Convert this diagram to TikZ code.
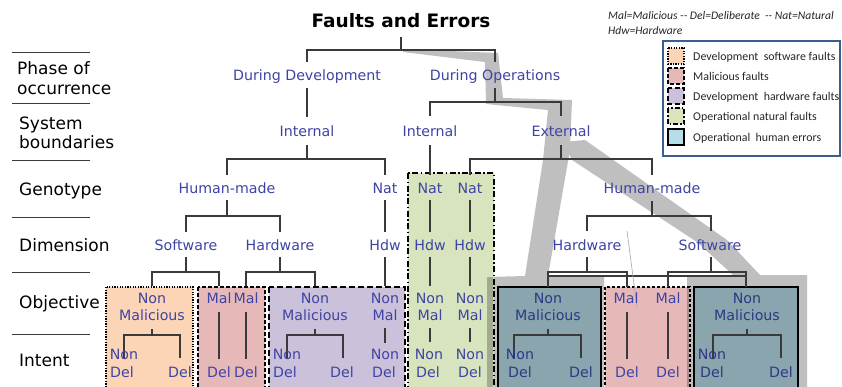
\documentclass[tikz,border=0pt]{standalone}
\usepackage{fontspec}
\setmainfont{DejaVu Sans}
\newfontfamily\legfont{Carlito}
\definecolor{lbl}{RGB}{62,68,164}
\definecolor{lbldk}{RGB}{46,56,132}
\definecolor{ln}{RGB}{58,58,58}
\definecolor{bandc}{RGB}{191,191,191}
\definecolor{orf}{HTML}{FBD5B5}
\definecolor{rdf}{HTML}{E6B9B8}
\definecolor{puf}{HTML}{CCC1DA}
\definecolor{grf}{HTML}{D7E4BD}
\definecolor{blf}{HTML}{B7DEE8}
\definecolor{bgf}{HTML}{8AA5AE}
\definecolor{olf}{HTML}{A2AB8E}
\definecolor{rdk}{HTML}{AC8B8A}
\definecolor{legb}{HTML}{3A5F8C}
\definecolor{legt}{HTML}{262626}
% bracket: prefix, parent x, y top, y bar, left x, right x, y bottom
\newcommand\brk[7]{%
  \coordinate (#1-p) at (#2,#3); \coordinate (#1-j) at (#2,#4);
  \coordinate (#1-l) at (#5,#7); \coordinate (#1-lj) at (#5,#4);
  \coordinate (#1-r) at (#6,#7); \coordinate (#1-rj) at (#6,#4);
  \draw[tl] (#1-p) -- (#1-j);
  \draw[tl] (#1-l) -- (#1-lj) -- (#1-rj) -- (#1-r);}
% vertical line: prefix, x, y1, y2
\newcommand\vln[4]{%
  \coordinate (#1-a) at (#2,#3); \coordinate (#1-b) at (#2,#4);
  \draw[tl] (#1-a) -- (#1-b);}
\begin{document}
\begin{tikzpicture}[x=1pt,y=-1pt,
  lab/.style={font=\fontsize{14.2}{17}\selectfont, text=lbl, inner sep=0pt, anchor=base},
  labw/.style={lab, anchor=base west},
  labd/.style={lab, text=lbldk},
  labdw/.style={labd, anchor=base west},
  rowlab/.style={font=\fontsize{17}{20}\selectfont, text=black, inner sep=0pt, anchor=base west},
  tl/.style={draw=ln, line width=1.3pt},
  sepl/.style={draw=ln, line width=1pt},
  orbox/.style={draw=black, line width=1.3pt, dash pattern=on 1.3pt off 1.3pt},
  rdbox/.style={draw=black, line width=1.6pt, dash pattern=on 4pt off 2pt},
  pubox/.style={draw=black, line width=1.8pt, dash pattern=on 6pt off 3pt},
  grbox/.style={draw=black, line width=1.8pt, dash pattern=on 6pt off 2.5pt on 1.5pt off 2.5pt},
  blbox/.style={draw=black, line width=2pt},
  legtxt/.style={font=\legfont\fontsize{11.9}{14}\selectfont, text=legt, inner sep=0pt, anchor=base west},
  notetxt/.style={font=\legfont\itshape\fontsize{11.6}{13}\selectfont, text=legt, inner sep=0pt, anchor=base west}]
\useasboundingbox (0,0) rectangle (842,386);
\fill[white] (0,0) rectangle (842,386);

% ---- gray highlight bands
\fill[bandc] (403,49) -- (498,53) -- (503,98) -- (572,100) -- (570,150) -- (548,276)
  -- (604,276) -- (604,392) -- (487,392) -- (487,277) -- (525,276) -- (543,160)
  -- (548,110) -- (486,104) -- (485,62) -- (403,52) -- cycle;
\fill[bandc] (563,142) -- (585,140) -- (727,240) -- (760,275) -- (807,275) -- (807,392)
  -- (687,392) -- (687,275) -- (733,275) -- (697,242) -- (572,160) -- cycle;

% ---- class boxes
\fill[orf] (106,287) rectangle (193,392);
\fill[rdf] (198,287) rectangle (265,392);
\fill[puf] (269,287) rectangle (405,392);
\fill[grf] (408,173) rectangle (494,392);
\fill[olf] (487,277) rectangle (493,392);
\fill[bgf] (498,287) rectangle (601,392);
\fill[rdf] (605,287) rectangle (690,392);
\fill[rdk] (687,287) rectangle (689,392);
\fill[bgf] (694,287) rectangle (798,392);
\draw[orbox] (106,287) rectangle (193,392);
\draw[rdbox] (198,287) rectangle (265,392);
\draw[pubox] (269,287) rectangle (405,392);
\draw[grbox] (408,173) rectangle (494,392);
\draw[blbox] (498,287) rectangle (601,392);
\draw[rdbox, line width=1.3pt, dash pattern=on 3pt off 2pt] (605,287) rectangle (690,392);
\draw[blbox] (694,287) rectangle (798,392);

% ---- row separators and row labels
\foreach \yy [count=\i] in {52,103,160,217,272,334}
  \draw[sepl] (12,\yy) coordinate (sepa\i) -- (90,\yy) coordinate (sepb\i);
\node[rowlab] (r1a) at (17,74) {Phase of};
\node[rowlab] (r1b) at (17,94) {occurrence};
\node[rowlab] (r2a) at (19,129) {System};
\node[rowlab] (r2b) at (19,148) {boundaries};
\node[rowlab] (r3) at (19,195) {Genotype};
\node[rowlab] (r4) at (19,251) {Dimension};
\node[rowlab] (r5) at (19,308) {Objective};
\node[rowlab] (r6) at (19,366) {Intent};

% ---- title and note
\node[font=\bfseries\fontsize{18.5}{22}\selectfont, inner sep=0pt, anchor=base] (title) at (401,27) {Faults and Errors};
\node[notetxt] (note1) at (608,19) {Mal=Malicious -- Del=Deliberate\ \ -- Nat=Natural};
\node[notetxt] (note2) at (608,34) {Hdw=Hardware};

% ---- tree connectors
\brk{b0}{401}{37}{50}{307}{495}{62}
\vln{v0}{307}{88}{117}
\brk{b1}{495}{88}{102}{430}{561}{116}
\brk{b2}{307}{145}{159}{227}{385}{175}
\vln{v1}{430}{145}{175}
\brk{b3}{561}{145}{159}{470}{652}{175}
\brk{b4}{227}{200}{216}{186}{280}{232}
\vln{v2}{385}{200}{232}
\vln{v3}{430}{200}{232}
\vln{v4}{470}{200}{232}
\brk{b5}{652}{201}{216}{587}{711}{231}
\brk{b6}{186}{257}{272}{152}{219}{286}
\brk{b7}{280}{257}{272}{246}{315}{286}
\vln{v5}{385}{257}{286}
\vln{v6}{430}{257}{286}
\vln{v7}{470}{257}{286}
\brk{b8}{587}{257}{272}{548}{627}{287}
\brk{b9}{711}{257}{272}{668}{746}{287}
\coordinate (lk-a) at (548,276); \coordinate (lk-b) at (746,276);
\draw[tl] (lk-a) -- (lk-b);
\brk{b10}{152}{329}{335}{124}{180}{358}
\vln{v8}{219}{312}{359}
\vln{v9}{246}{312}{359}
\brk{b11}{315}{329}{335}{287}{343}{358}
\vln{v10}{385}{328}{343}
\vln{v11}{430}{328}{342}
\vln{v12}{470}{328}{342}
\brk{b12}{548}{329}{335}{514}{581}{358}
\vln{v13}{627}{312}{359}
\vln{v14}{668}{312}{359}
\brk{b13}{747}{329}{335}{713}{781}{358}
\coordinate (st-a) at (627,231); \coordinate (st-b) at (637,307);
\draw[draw=gray!70, line width=0.6pt] (st-a) -- (st-b);

% ---- tree labels
\node[lab] (dd) at (307,80) {During Development};
\node[lab] (do) at (495,80) {During Operations};
\node[lab] (int1) at (307,136) {Internal};
\node[lab] (int2) at (430,136) {Internal};
\node[lab] (ext) at (561,136) {External};
\node[lab] (hm1) at (227,193) {Human-made};
\node[lab] (nat1) at (385,193) {Nat};
\node[lab] (nat2) at (430,193) {Nat};
\node[lab] (nat3) at (470,193) {Nat};
\node[lab] (hm2) at (652,193) {Human-made};
\node[lab] (sw1) at (186,250) {Software};
\node[lab] (hw1) at (280,250) {Hardware};
\node[lab] (hdw1) at (385,250) {Hdw};
\node[lab] (hdw2) at (430,250) {Hdw};
\node[lab] (hdw3) at (470,250) {Hdw};
\node[lab] (hw2) at (587,250) {Hardware};
\node[lab] (sw2) at (710,250) {Software};

% objective row
\node[lab] (o1a) at (152,303) {Non};
\node[lab] (o1b) at (152,320) {Malicious};
\node[lab] (m1) at (219,303) {Mal};
\node[lab] (m2) at (246,303) {Mal};
\node[lab] (o2a) at (315,303) {Non};
\node[lab] (o2b) at (315,320) {Malicious};
\node[lab] (o3a) at (385,303) {Non};
\node[lab] (o3b) at (385,320) {Mal};
\node[lab] (g1a) at (430,303) {Non};
\node[lab] (g1b) at (430,320) {Mal};
\node[lab] (g2a) at (470,303) {Non};
\node[lab] (g2b) at (470,320) {Mal};
\node[labd] (o4a) at (548,303) {Non};
\node[labd] (o4b) at (548,320) {Malicious};
\node[lab] (m3) at (626,303) {Mal};
\node[lab] (m4) at (668,303) {Mal};
\node[labd] (o5a) at (747,303) {Non};
\node[labd] (o5b) at (747,320) {Malicious};

% intent row
\node[lab] (i1a) at (124,359) {Non};
\node[labw] (i1b) at (110,377) {Del};
\node[lab] (i1c) at (180,377) {Del};
\node[lab] (d1) at (219,377) {Del};
\node[lab] (d2) at (246,377) {Del};
\node[lab] (i2a) at (287,359) {Non};
\node[labw] (i2b) at (273,377) {Del};
\node[lab] (i2c) at (342,377) {Del};
\node[lab] (i3a) at (385,359) {Non};
\node[lab] (i3b) at (384,377) {Del};
\node[lab] (g3a) at (429,359) {Non};
\node[lab] (g3b) at (428,377) {Del};
\node[lab] (g4a) at (470,359) {Non};
\node[lab] (g4b) at (470,377) {Del};
\node[labd] (i4a) at (520,359) {Non};
\node[labdw] (i4b) at (508,377) {Del};
\node[labd] (i4c) at (581,377) {Del};
\node[lab] (d3) at (627,377) {Del};
\node[lab] (d4) at (668,377) {Del};
\node[labd] (i5a) at (712,359) {Non};
\node[labdw] (i5b) at (700,377) {Del};
\node[labd] (i5c) at (781,377) {Del};

% ---- legend
\draw[draw=legb, line width=2.2pt, fill=white] (663,41) rectangle (840,156);
\fill[orf] (668,48) rectangle (684,64);
\draw[orbox] (668,48) rectangle (684,64);
\fill[rdf] (668,68) rectangle (684,84);
\draw[rdbox] (668,68) rectangle (684,84);
\fill[puf] (668,88) rectangle (684,104);
\draw[pubox, dash pattern=on 5pt off 2.5pt] (668,88) rectangle (684,104);
\fill[grf] (668,108) rectangle (684,124);
\draw[grbox, dash pattern=on 5pt off 2pt on 1.5pt off 2pt] (668,108) rectangle (684,124);
\fill[blf] (668,129) rectangle (684,145);
\draw[blbox] (668,129) rectangle (684,145);
\node[legtxt] (lg1) at (693,60) {Development\ \ software faults};
\node[legtxt] (lg2) at (693,80) {Malicious faults};
\node[legtxt] (lg3) at (693,100) {Development\ \ hardware faults};
\node[legtxt] (lg4) at (693,120) {Operational natural faults};
\node[legtxt] (lg5) at (693,141) {Operational\ \ human errors};
\end{tikzpicture}
\end{document}
